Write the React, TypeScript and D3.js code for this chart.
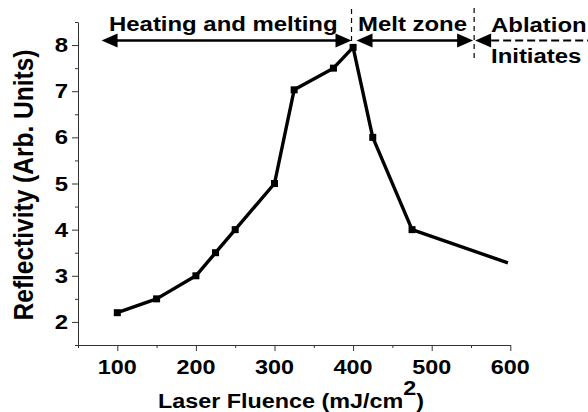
import React from "react";
import * as d3 from "d3";

// data
const fluence = [100, 150, 200, 225, 250, 300, 325, 375, 400, 425, 475, 597];
const reflectivity = [2.2, 2.5, 3.0, 3.5, 4.0, 5.0, 7.03, 7.5, 7.95, 6.0, 4.0, 3.28];
const xMajor = [100, 200, 300, 400, 500, 600];
const xMinor = [50, 150, 250, 350, 450, 550];
const yMajor = [2, 3, 4, 5, 6, 7, 8];
const yMinor = [1.5, 2.5, 3.5, 4.5, 5.5, 6.5, 7.5, 8.5];
const zoneLabels = ["Heating and melting", "Melt zone", "Ablation", "Initiates"];
const zoneEdges = [80, 398, 554]; // fluence where the zone arrows start / the dashed separators sit

const W = 588;
const H = 412;
const SX = 1.14; // figure text is stretched horizontally
const FONT = "'Liberation Sans', Arial, Helvetica, sans-serif";

const App = () => {
  const svgRef = React.useRef<SVGSVGElement>(null);

  React.useEffect(() => {
    const svg = d3.select(svgRef.current);
    svg.selectAll("*").remove();

    const x = d3.scaleLinear().domain([50, 600]).range([78, 510.3]);
    const y = d3.scaleLinear().domain([1.5, 8.5]).range([345, 22]);

    // stretched bold text helper
    const label = (tx: number, ty: number, str: string, size = 20.5, anchor = "start") => {
      const t = svg
        .append("g")
        .attr("transform", `translate(${tx},${ty}) scale(${SX},1)`)
        .append("text")
        .attr("text-anchor", anchor)
        .attr("font-family", FONT)
        .attr("font-weight", "bold")
        .attr("font-size", size)
        .attr("fill", "#000");
      t.text(str);
      return t;
    };

    // x axis
    const xAxisG = svg.append("g").attr("transform", "translate(0,345)");
    xAxisG.call(d3.axisBottom(x).tickValues(xMajor).tickSize(6).tickSizeOuter(0).tickFormat(() => ""));
    const xMinorG = svg.append("g").attr("transform", "translate(0,345)");
    xMinorG.call(d3.axisBottom(x).tickValues(xMinor).tickSize(3).tickFormat(() => ""));
    xMinorG.select(".domain").remove();

    // y axis
    const yAxisG = svg.append("g").attr("transform", "translate(78,0)");
    yAxisG.call(d3.axisLeft(y).tickValues(yMajor).tickSize(6).tickSizeOuter(0).tickFormat(() => ""));
    const yMinorG = svg.append("g").attr("transform", "translate(78,0)");
    yMinorG.call(d3.axisLeft(y).tickValues(yMinor).tickSize(3).tickFormat(() => ""));
    yMinorG.select(".domain").remove();

    svg.selectAll(".domain, .tick line").attr("stroke", "#333").attr("stroke-width", 1);

    // tick labels
    xMajor.forEach((v) => label(x(v), 374, String(v), 20.5, "middle"));
    yMajor.forEach((v) => label(68, y(v) + 7, String(v), 21, "end"));

    // axis titles
    const xt = label(158, 407.5, "Laser Fluence (mJ/cm", 20.5);
    xt.append("tspan").attr("dy", -12.5).text("2");
    xt.append("tspan").attr("dy", 12.5).text(")");

    svg
      .append("g")
      .attr("transform", `translate(33,185) scale(${SX},1) rotate(-90)`)
      .append("text")
      .attr("text-anchor", "middle")
      .attr("font-family", FONT)
      .attr("font-weight", "bold")
      .attr("font-size", 24.5)
      .text("Reflectivity (Arb. Units)");

    // data line
    const pts = fluence.map((f, i) => [f, reflectivity[i]] as [number, number]);
    const line = d3
      .line<[number, number]>()
      .x((d) => x(d[0]))
      .y((d) => y(d[1]));
    svg
      .append("path")
      .attr("d", line(pts))
      .attr("fill", "none")
      .attr("stroke", "#000")
      .attr("stroke-width", 3.4)
      .attr("stroke-linejoin", "round");
    const s = 7;
    svg
      .selectAll(".pt")
      .data(pts.slice(0, -1))
      .enter()
      .append("rect")
      .attr("x", (d) => x(d[0]) - s / 2)
      .attr("y", (d) => y(d[1]) - s / 2)
      .attr("width", s)
      .attr("height", s)
      .attr("fill", "#000");

    // zone annotations
    const ay = 40.5;
    const head = (tip: number, dir: number) =>
      svg
        .append("path")
        .attr("d", `M${tip},${ay}L${tip - dir * 16},${ay - 7}L${tip - dir * 16},${ay + 7}Z`)
        .attr("fill", "#000");
    const seg = (x1: number, x2: number, dash?: string) => {
      const l = svg
        .append("line")
        .attr("x1", x1)
        .attr("x2", x2)
        .attr("y1", ay)
        .attr("y2", ay)
        .attr("stroke", "#000")
        .attr("stroke-width", 2.4);
      if (dash) l.attr("stroke-dasharray", dash).attr("stroke-width", 2);
    };
    const e0 = x(zoneEdges[0]);
    const e1 = x(zoneEdges[1]);
    const e2 = x(zoneEdges[2]);

    seg(e0 + 8, e1 - 8);
    head(e0, -1);
    head(e1, 1);
    seg(e1 + 13, e2 - 13);
    head(e1 + 5, -1);
    head(e2 - 1, 1);
    head(e2 + 1, -1);
    seg(e2 + 17, W, "8,4");

    const vdash = (xx: number, y1: number, y2: number) =>
      svg
        .append("line")
        .attr("x1", xx)
        .attr("x2", xx)
        .attr("y1", y1)
        .attr("y2", y2)
        .attr("stroke", "#000")
        .attr("stroke-width", 1.2)
        .attr("stroke-dasharray", "5,4");
    vdash(e1, 9, 47);
    vdash(e2, 8, 58);

    label(109, 30.5, zoneLabels[0], 21);
    label(358, 31, zoneLabels[1], 21);
    label(491, 32, zoneLabels[2], 21);
    label(491, 63, zoneLabels[3], 21);
  }, []);

  return (
    <svg
      ref={svgRef}
      width={W}
      height={H}
      style={{ position: "absolute", left: 0, top: 0, background: "#fff" }}
    />
  );
};

export default App;
